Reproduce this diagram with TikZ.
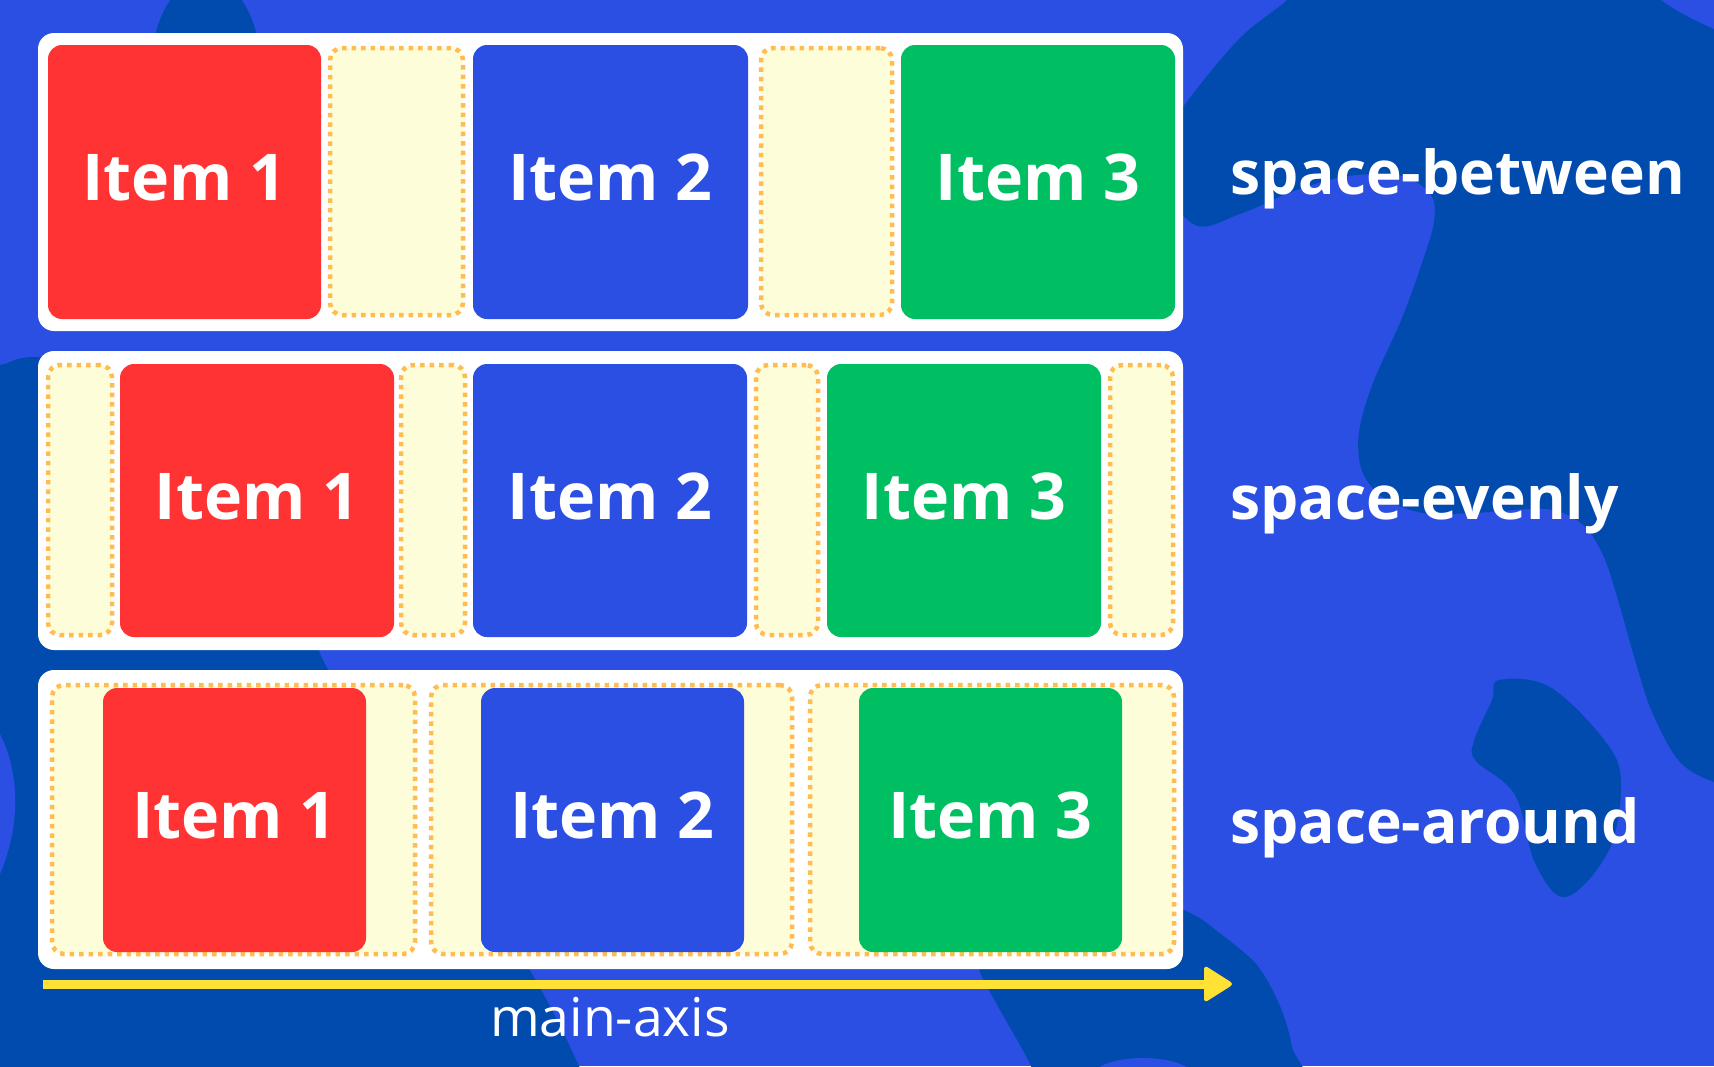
\documentclass[tikz,border=0pt]{standalone}
\usepackage{fontspec}
\setmainfont{Open Sans}
\definecolor{bglight}{HTML}{2B4FE3}
\definecolor{bgdark}{HTML}{024BAE}
\definecolor{cred}{HTML}{FF3333}
\definecolor{cgreen}{HTML}{00BF63}
\definecolor{cblue}{HTML}{2B4FE3}
\definecolor{cream}{HTML}{FEFDDA}
\definecolor{dotc}{HTML}{FFBC52}
\definecolor{ayellow}{HTML}{FFE234}
\tikzset{
  rowbox/.style={fill=white, rounded corners=16pt},
  itembox/.style={rounded corners=14pt, inner sep=0pt, text=white, text depth=9pt,
    font=\fontsize{64.5}{64.5}\selectfont\bfseries},
  gapbox/.style={fill=cream, draw=dotc, line width=4.5pt, dash pattern=on 4.5pt off 5pt,
    rounded corners=12pt, inner sep=0pt},
  lbl/.style={text=white, anchor=base west, inner sep=0pt, font=\fontsize{60.5}{60.5}\selectfont\bfseries},
}
\begin{document}
\begin{tikzpicture}[x=1pt,y=-1pt]
\useasboundingbox (0,0) rectangle (1714,1066);
\fill[bglight] (0,0) rectangle (1714,1066);
% background blobs
\begin{scope}
\clip (0,0) rectangle (1714,1066);
\fill[bgdark] (206,70) ellipse [x radius=55, y radius=92];
\fill[bgdark] plot[smooth cycle, tension=0.6] coordinates {
  (-40,370) (0,365) (38,357) (150,368) (260,430) (310,560) (323,660) (430,810) (531,972)
  (579,1066) (600,1120) (-40,1120)};
\fill[bglight] (-5,725) .. controls (22,770) and (22,830) .. (-5,885) -- cycle;
\fill[bgdark] plot[smooth cycle, tension=0.55] coordinates {
  (1310,-30) (1287,0) (1240,38) (1186,103) (1150,160) (1193,224) (1240,214) (1294,191)
  (1348,176) (1402,176) (1431,195) (1434,222) (1423,260) (1402,318) (1373,383) (1359,432)
  (1362,471) (1384,498) (1423,513) (1474,513) (1546,509) (1582,524) (1603,555) (1618,600)
  (1635,660) (1652,712) (1679,761) (1714,782) (1760,790) (1760,40) (1714,29) (1661,0) (1640,-30)};
\fill[bgdark] plot[smooth cycle, tension=0.6] coordinates {
  (1499,680) (1550,687) (1605,741) (1621,782) (1609,850) (1566,897) (1535,863)
  (1515,795) (1476,761) (1474,741) (1492,700)};
\fill[bgdark] plot[smooth cycle, tension=0.5] coordinates {
  (1100,880) (1186,911) (1217,931) (1257,965) (1280,1006) (1292,1047) (1295,1100)
  (1040,1100) (1031,1066) (1000,1010) (980,972) (975,940) (1010,895)};
\fill[bglight] (1143,1076) ellipse [x radius=50, y radius=18];
\end{scope}

% row 1: space-between
\fill[rowbox] (38,33) rectangle (1183,331);
\node[itembox, fill=cred, minimum width=273pt, minimum height=274pt] (b1) at (184.5,182) {Item 1};
\node[gapbox, minimum width=133pt, minimum height=267pt] (bg1) at (396.5,181.5) {};
\node[itembox, fill=cblue, minimum width=275pt, minimum height=274pt] (b2) at (610.5,182) {Item 2};
\node[gapbox, minimum width=131pt, minimum height=267pt] (bg2) at (826.5,181.5) {};
\node[itembox, fill=cgreen, minimum width=274pt, minimum height=274pt] (b3) at (1038,182) {Item 3};
\node[lbl] (lb) at (1230,194) {space-between};

% row 2: space-evenly
\fill[rowbox] (38,351) rectangle (1183,650);
\node[gapbox, minimum width=64pt, minimum height=270pt] (eg1) at (80,500) {};
\node[itembox, fill=cred, minimum width=274pt, minimum height=273pt] (e1) at (257,500.5) {Item 1};
\node[gapbox, minimum width=64pt, minimum height=270pt] (eg2) at (433,500) {};
\node[itembox, fill=cblue, minimum width=274pt, minimum height=273pt] (e2) at (610,500.5) {Item 2};
\node[gapbox, minimum width=62pt, minimum height=270pt] (eg3) at (787,500) {};
\node[itembox, fill=cgreen, minimum width=274pt, minimum height=273pt] (e3) at (964,500.5) {Item 3};
\node[gapbox, minimum width=63pt, minimum height=270pt] (eg4) at (1141.5,500) {};
\node[lbl] (le) at (1230,519) {space-evenly};

% row 3: space-around
\fill[rowbox] (38,670) rectangle (1183,969);
\node[gapbox, minimum width=363pt, minimum height=269pt] (ag1) at (233.5,819.5) {};
\node[gapbox, minimum width=361pt, minimum height=269pt] (ag2) at (611.5,819.5) {};
\node[gapbox, minimum width=364pt, minimum height=269pt] (ag3) at (992,819.5) {};
\node[itembox, fill=cred, minimum width=263pt, minimum height=264pt] (a1) at (234.5,820) {Item 1};
\node[itembox, fill=cblue, minimum width=263pt, minimum height=264pt] (a2) at (612.5,820) {Item 2};
\node[itembox, fill=cgreen, minimum width=263pt, minimum height=264pt] (a3) at (990.5,820) {Item 3};
\node[lbl] (la) at (1230,843) {space-around};

% main axis arrow
\coordinate (axs) at (43,984);
\coordinate (axe) at (1208,984);
\draw[ayellow, line width=9pt] (axs) -- (axe);
\fill[ayellow, rounded corners=4pt] (1204,965) -- (1234,984) -- (1204,1003) -- cycle;
\node[text=white, anchor=base, inner sep=0pt, font=\fontsize{53.5}{53.5}\selectfont] (ax) at (610,1036) {main-axis};
\end{tikzpicture}
\end{document}
